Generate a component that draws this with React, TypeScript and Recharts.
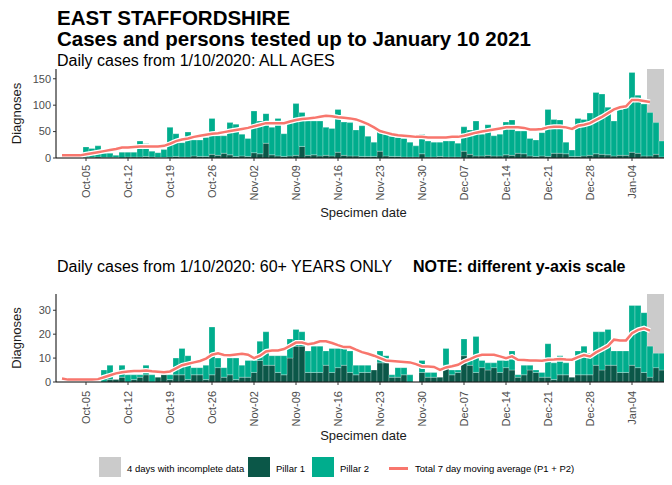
import { ComposedChart, Bar, Line, XAxis, YAxis, ReferenceArea } from 'recharts';

const FONT = '"Liberation Sans", Arial, Helvetica, sans-serif';
const PILLAR1 = '#0b5748';
const PILLAR2 = '#00ad8d';
const AVERAGE = '#f8766d';
const INCOMPLETE = '#cbcbcb';

// calendar days 1 Oct 2020 .. 10 Jan 2021
const months: [string, number][] = [['Oct', 31], ['Nov', 30], ['Dec', 31], ['Jan', 10]];
const days = months.flatMap(([m, n]) =>
	Array.from({ length: n }, (_, i) => `${m}-${String(i + 1).padStart(2, '0')}`)
);

const weekTicks = [
	'Oct-05', 'Oct-12', 'Oct-19', 'Oct-26', 'Nov-02', 'Nov-09', 'Nov-16',
	'Nov-23', 'Nov-30', 'Dec-07', 'Dec-14', 'Dec-21', 'Dec-28', 'Jan-04',
];
// first of the 4 days with incomplete data (runs to the end of the axis)
const firstIncompleteDay = 'Jan-07';

// ALL AGES (Oct | Nov | Dec | Jan)
const allPillar1 = [
	0, 0, 0, 0, 1, 1, 2, 1, 1, 1, 0, 2, 2, 2, 3, 2, 1, 1, 2, 3, 2, 2, 4, 3, 3, 7, 5, 9, 6, 3, 4,
	3, 10, 8, 28, 6, 4, 3, 4, 5, 22, 5, 6, 4, 5, 4, 11, 5, 4, 4, 3, 3, 3, 13, 4, 3, 3, 2, 2, 2, 8,
	2, 2, 3, 2, 2, 2, 13, 7, 4, 4, 5, 4, 4, 6, 5, 9, 8, 4, 3, 4, 3, 9, 9, 8, 3, 3, 4, 5, 8, 7, 6,
	4, 5, 5, 11, 9, 4, 4, 7, 2, 0,
];
const allPillar2 = [
	0, 0, 0, 0, 20, 17, 21, 8, 8, 4, 11, 9, 9, 30, 24, 11, 9, 15, 56, 43, 27, 47, 30, 31, 36, 68, 37, 33, 61, 61, 41,
	34, 79, 62, 56, 52, 71, 43, 63, 98, 64, 65, 64, 66, 53, 52, 81, 63, 63, 49, 58, 38, 27, 37, 41, 38, 36, 35, 28, 21, 37,
	30, 28, 27, 30, 30, 26, 46, 46, 66, 41, 58, 38, 41, 62, 67, 42, 43, 33, 31, 44, 89, 64, 63, 22, 12, 72, 69, 80, 116, 114, 90,
	66, 87, 91, 151, 110, 98, 82, 60, 30, 0,
];
const allAverage = [
	5, 5, 5, 5, 7, 9, 11, 13, 15, 17, 20, 20, 21, 22, 22, 22, 22, 23, 27, 32, 35, 37, 40, 42, 44, 46, 47, 49, 51, 53, 55,
	57, 60, 63, 66, 66, 66, 66, 69, 72, 74, 75, 76, 78, 80, 79, 77, 76, 75, 73, 69, 64, 58, 51, 48, 45, 43, 42, 41, 40, 40,
	39, 39, 39, 39, 40, 40, 42, 45, 48, 50, 52, 54, 56, 58, 58, 58, 57, 54, 54, 55, 58, 59, 59, 58, 55, 61, 63, 66, 72, 78, 85,
	92, 96, 98, 110, 110, 108, 106,
];

// 60+ YEARS ONLY
const olderPillar1 = [
	0, 0, 0, 0, 0, 0, 0, 0, 1, 1, 2, 0, 1, 2, 3, 0, 2, 3, 1, 3, 3, 1, 3, 3, 1, 3, 6, 2, 3, 1, 2,
	2, 4, 9, 7, 7, 4, 3, 10, 15, 15, 4, 4, 4, 7, 4, 6, 7, 4, 3, 4, 4, 5, 8, 8, 2, 2, 3, 0, 0, 4,
	2, 2, 2, 7, 3, 4, 11, 7, 4, 6, 5, 6, 4, 6, 5, 2, 3, 5, 4, 2, 2, 1, 3, 3, 2, 3, 3, 3, 7, 5, 7,
	7, 4, 4, 7, 6, 4, 2, 6, 5, 0,
];
const olderPillar2 = [
	0, 0, 0, 0, 0, 0, 0, 5, 6, 0, 5, 3, 2, 1, 4, 3, 0, 0, 2, 7, 11, 10, 3, 3, 6, 20, 4, 4, 7, 9, 5,
	7, 5, 8, 14, 4, 7, 8, 8, 7, 6, 9, 11, 11, 6, 10, 8, 7, 9, 4, 3, 3, 0, 5, 3, 1, 4, 3, 3, 0, 5,
	2, 2, 0, 7, 2, 1, 7, 2, 15, 3, 3, 2, 5, 3, 8, 1, 4, 2, 1, 2, 14, 7, 8, 5, 0, 10, 12, 9, 14, 16, 15,
	6, 9, 9, 25, 26, 25, 13, 6, 7, 0,
];
const olderAverage = [
	1.5, 1, 1, 1, 1, 1, 1.2, 2, 2.8, 3.6, 4.1, 4.4, 4.6, 4.6, 4.8, 4.5, 4.3, 4.1, 4.4, 5.7, 7, 7.6, 8.2, 8.8, 9.8, 11.4, 12, 11.3, 11.2, 11.5, 11.8,
	11.4, 10, 11, 12.8, 13.2, 13.2, 13.8, 15.1, 16.5, 16.5, 15.8, 16.2, 17, 17, 16.3, 15.4, 14.6, 14.6, 13.5, 12.5, 11.8, 11, 10, 9, 8.8, 8.6, 8.4, 8.2, 7.5, 6.5,
	6.5, 6.3, 5.1, 6.1, 6.6, 7.2, 8.6, 9.6, 10.7, 11.4, 11.4, 11.4, 10.7, 10, 10.7, 9.3, 9.2, 9, 9, 8.9, 9.3, 9.4, 9.6, 9.4, 9.3, 10.4, 11.3, 10.7, 12.4, 13.7, 15.1,
	17.7, 17.4, 17.4, 20.4, 21.8, 22.5, 21.5,
];

const buildRows = (p1: number[], p2: number[], avg: number[]) =>
	days.map((day, i) => ({ day, p1: p1[i], p2: p2[i], avg: avg[i] ?? null }));

const allRows = buildRows(allPillar1, allPillar2, allAverage);
const olderRows = buildRows(olderPillar1, olderPillar2, olderAverage);

function DateTick(props: any) {
	const { x, y, payload, shift } = props;
	return (
		<text
			x={x}
			y={y}
			dx={-shift}
			dy={4}
			transform={`rotate(-90, ${x}, ${y})`}
			textAnchor='end'
			fontSize={11}
			fill='#4d4d4d'
			fontFamily={FONT}>
			{payload.value}
		</text>
	);
}

interface PanelProps {
	rows: any[];
	top: number;
	height: number;
	marginTop: number;
	yMax: number;
	yTicks: number[];
	tickShift: number;
	labelOffset: number;
}

function Panel({ rows, top, height, marginTop, yMax, yTicks, tickShift, labelOffset }: PanelProps) {
	return (
		<div style={{ position: 'absolute', left: 0, top }}>
			<ComposedChart
				width={672}
				height={height}
				data={rows}
				barCategoryGap={0}
				margin={{ top: marginTop, right: 1, bottom: 0, left: 0 }}>
				<ReferenceArea x1={firstIncompleteDay} fill={INCOMPLETE} fillOpacity={1} stroke='none' />
				<XAxis
					dataKey='day'
					ticks={weekTicks}
					interval={0}
					height={64}
					padding={{ left: 3, right: 0 }}
					tickSize={3}
					tickLine={{ stroke: '#333' }}
					axisLine={{ stroke: '#000' }}
					tick={<DateTick shift={tickShift} />}
					label={{
						value: 'Specimen date',
						position: 'insideBottom',
						offset: labelOffset,
						fill: '#1a1a1a',
						fontSize: 13,
						fontFamily: FONT,
					}}
				/>
				<YAxis
					type='number'
					domain={[0, yMax]}
					allowDataOverflow
					ticks={yTicks}
					width={56}
					tickSize={3}
					tickLine={{ stroke: '#333' }}
					axisLine={{ stroke: '#000' }}
					tick={{ fill: '#4d4d4d', fontSize: 11, fontFamily: FONT }}
					label={{
						value: 'Diagnoses',
						angle: -90,
						position: 'insideLeft',
						offset: 16,
						fill: '#1a1a1a',
						fontSize: 13,
						fontFamily: FONT,
						style: { textAnchor: 'middle' },
					}}
				/>
				<Bar dataKey='p1' stackId='cases' fill={PILLAR1} stroke='#ffffff' strokeOpacity={0.5} strokeWidth={0.5} isAnimationActive={false} />
				<Bar dataKey='p2' stackId='cases' fill={PILLAR2} stroke='#ffffff' strokeOpacity={0.5} strokeWidth={0.5} isAnimationActive={false} />
				<Line type='linear' dataKey='avg' stroke='#ffffff' strokeWidth={5} dot={false} activeDot={false} isAnimationActive={false} />
				<Line type='linear' dataKey='avg' stroke={AVERAGE} strokeWidth={2.5} dot={false} activeDot={false} isAnimationActive={false} />
			</ComposedChart>
		</div>
	);
}

const text = (left: number, top: number, size: number, bold = false): React.CSSProperties => ({
	position: 'absolute',
	left,
	top,
	fontSize: size,
	lineHeight: `${size}px`,
	fontWeight: bold ? 'bold' : 'normal',
	whiteSpace: 'nowrap',
	color: '#000',
});

const box = (left: number, color: string): React.CSSProperties => ({
	position: 'absolute',
	left,
	top: 457,
	width: 22,
	height: 23,
	background: color,
});

export default function App() {
	return (
		<div
			style={{
				position: 'relative',
				width: 672,
				height: 485,
				margin: -8,
				overflow: 'hidden',
				background: '#fff',
				fontFamily: FONT,
			}}>
			<div style={text(57, 7.5, 20.5, true)}>EAST STAFFORDSHIRE</div>
			<div style={text(57, 29, 20.5, true)}>Cases and persons tested up to January 10 2021</div>
			<div style={text(57, 53, 16)}>Daily cases from 1/10/2020: ALL AGES</div>

			<Panel rows={allRows} top={0} height={222} marginTop={69} yMax={168.5} yTicks={[0, 50, 100, 150]} tickShift={2} labelOffset={5} />

			<div style={text(57, 259, 16)}>Daily cases from 1/10/2020: 60+ YEARS ONLY</div>
			<div style={text(413, 259, 16, true)}>NOTE: different y-axis scale</div>

			<Panel rows={olderRows} top={230} height={216} marginTop={64} yMax={36.8} yTicks={[0, 10, 20, 30]} tickShift={4} labelOffset={6} />

			<div style={box(99, INCOMPLETE)} />
			<div style={text(127, 464, 9.5)}>4 days with incomplete data</div>
			<div style={box(248, PILLAR1)} />
			<div style={text(276, 464, 9.5)}>Pillar 1</div>
			<div style={box(312, PILLAR2)} />
			<div style={text(340, 464, 9.5)}>Pillar 2</div>
			<div style={{ position: 'absolute', left: 389, top: 467, width: 19, height: 3, background: AVERAGE }} />
			<div style={text(415, 464, 9.5)}>Total 7 day moving average (P1 + P2)</div>
		</div>
	);
}
